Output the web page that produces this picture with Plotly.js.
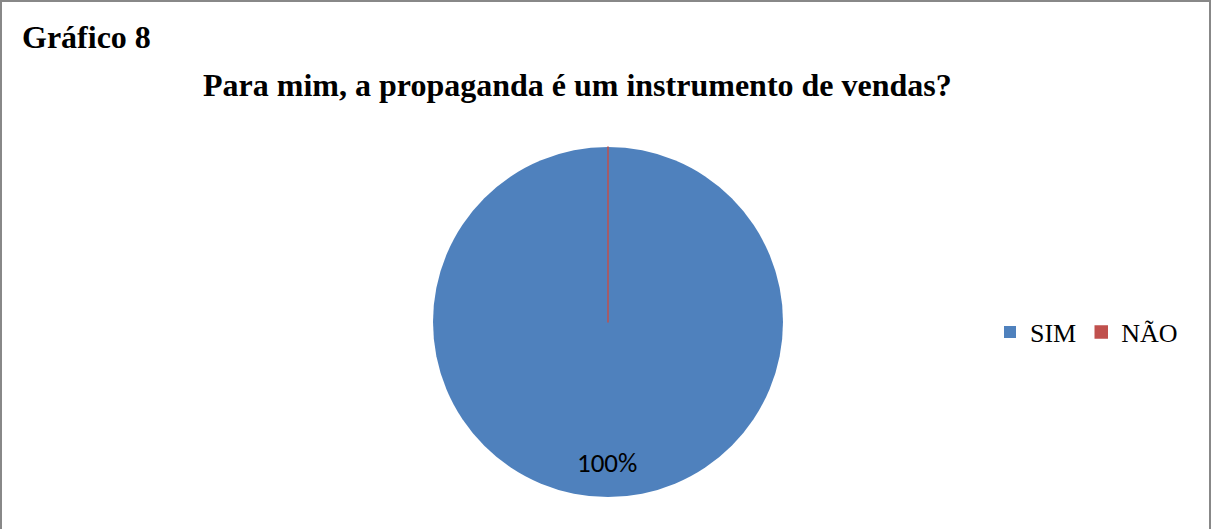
<!DOCTYPE html>
<html>
<head>
<meta charset="utf-8">
<script src="https://cdn.plot.ly/plotly-3.0.1.min.js"></script>
<style>
html,body{margin:0;padding:0;background:#fff;}
#wrap{position:relative;width:1211px;height:529px;box-sizing:border-box;border-top:2px solid #888;border-left:2px solid #888;border-right:2px solid #888;}
#chart{position:absolute;left:-2px;top:-2px;width:1211px;height:529px;}
</style>
</head>
<body>
<div id="wrap"><div id="chart"></div></div>
<script>
const labels = ['SIM', 'NÃO'];
const values = [100, 0];
const colors = ['#4F81BD', '#C0504D'];
const chartLabel = 'Gráfico 8';
const titleText = 'Para mim, a propaganda é um instrumento de vendas?';

const W = 1211, H = 529;
const cx = 608, cy = 322, r = 175;
const total = values.reduce((a, b) => a + b, 0);
const pctText = Math.round(values[0] / total * 100) + '%';

const trace = {
  type: 'pie',
  labels: labels,
  values: values,
  sort: false,
  direction: 'clockwise',
  rotation: 0,
  textinfo: 'none',
  hoverinfo: 'label+percent',
  marker: {colors: colors, line: {color: ['rgba(0,0,0,0)', '#C0504D'], width: [0, 1.5]}},
  domain: {x: [(cx - r) / W, (cx + r) / W], y: [(H - cy - r) / H, (H - cy + r) / H]},
  showlegend: true
};

const serif = 'Liberation Serif, Times New Roman, serif';
const layout = {
  width: W, height: H,
  margin: {l: 0, r: 0, t: 0, b: 0},
  paper_bgcolor: 'rgba(0,0,0,0)',
  showlegend: true,
  legend: {
    orientation: 'h', x: 990 / W, y: (H - 332) / H, xanchor: 'left', yanchor: 'middle',
    font: {family: serif, size: 26, color: '#000'},
    traceorder: 'normal'
  },
  annotations: [
    {text: '<b>' + chartLabel + '</b>', xref: 'paper', yref: 'paper', x: 20 / W, y: (H - 37) / H,
     xanchor: 'left', yanchor: 'middle', showarrow: false,
     font: {family: serif, size: 32, color: '#000'}},
    {text: '<b>' + titleText + '</b>', xref: 'paper', yref: 'paper', x: 577 / W, y: (H - 85) / H,
     xanchor: 'center', yanchor: 'middle', showarrow: false,
     font: {family: serif, size: 32, color: '#000'}},
    {text: pctText, xref: 'paper', yref: 'paper', x: 607 / W, y: (H - 462) / H,
     xanchor: 'center', yanchor: 'middle', showarrow: false,
     font: {family: 'Carlito, Liberation Sans, Arial, sans-serif', size: 27, color: '#000'}}
  ]
};

Plotly.newPlot('chart', [trace], layout, {displayModeBar: false, staticPlot: true});
</script>
</body>
</html>
